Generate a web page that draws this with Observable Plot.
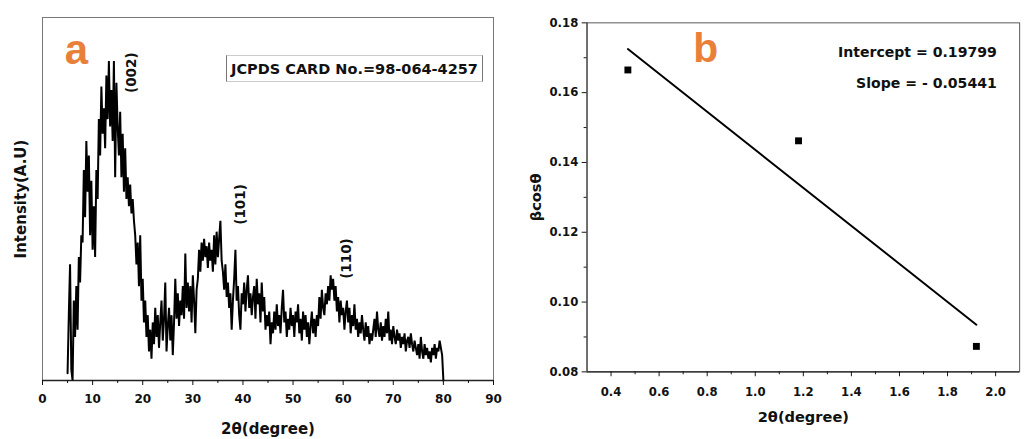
<!DOCTYPE html>
<html>
<head>
<meta charset="utf-8">
<script src="https://cdn.jsdelivr.net/npm/d3@7"></script>
<script src="https://cdn.jsdelivr.net/npm/@observablehq/plot@0.6"></script>
<style>
  html, body { margin: 0; padding: 0; background: #fff; overflow: hidden; }
  #wrap { position: relative; width: 1025px; height: 439px; overflow: hidden; background: #fff; }
  #pa { position: absolute; left: 0; top: 0; width: 512px; height: 439px; z-index: 2; }
  #pb { position: absolute; left: 500px; top: 0; width: 525px; height: 439px; overflow: hidden; z-index: 1; }
  #legend { position: absolute; left: 226px; top: 55px; width: 255px; height: 25px; z-index: 3;
    border-top: 1px solid #ccc; border-bottom: 1px solid #ccc; border-left: 1px solid #777; border-right: 1px solid #777;
    font-family: "DejaVu Sans", sans-serif; font-weight: bold; font-size: 14.5px; color: #111;
    display: flex; align-items: center; justify-content: center; white-space: nowrap; background: #fff; }
</style>
</head>
<body>
<div id="wrap">
  <div id="pa"></div>
  <div id="pb"></div>
  <div id="legend">JCPDS CARD No.=98-064-4257</div>
</div>
<script>
// ---------- Panel a: XRD pattern (2θ from 5° to 80°, step 0.25°) ----------
const xrdStart = 5;
const xrdStep = 0.25;
const xrdIntensity = [
  2, 18, 32, 3,
  0, 22, 12, 26,
  14, 34, 27, 40,
  38, 58, 45, 66,
  52, 62, 40, 55,
  36, 48, 34, 58,
  50, 72, 62, 81,
  68, 75, 64, 84,
  72, 88, 70, 80,
  66, 88, 56, 82,
  70, 62, 74, 56,
  68, 52, 64, 50,
  56, 48, 54, 46,
  50, 44, 40, 32,
  38, 26, 40, 22,
  28, 16, 22, 12,
  18, 8, 14, 6,
  16, 10, 20, 12,
  18, 9, 16, 22,
  11, 17, 27, 8,
  15, 20, 11, 18,
  7, 16, 28, 17,
  24, 15, 22, 18,
  26, 17, 35, 20,
  27, 19, 26, 16,
  29, 22, 13, 25,
  28, 36, 30, 38,
  33, 39, 34, 37,
  31, 38, 33, 36,
  30, 40, 32, 41,
  34, 39, 44, 33,
  30, 25, 32, 23,
  27, 20, 24, 14,
  22, 28, 36, 22,
  26, 18, 14, 24,
  21, 27, 19, 25,
  29, 20, 24, 18,
  23, 26, 17, 28,
  21, 24, 16, 27,
  19, 23, 14, 18,
  15, 19, 10, 16,
  13, 19, 14, 21,
  15, 18, 13, 20,
  25, 16, 19, 12,
  17, 14, 20, 15,
  18, 12, 19, 16,
  21, 13, 17, 11,
  19, 14, 18, 12,
  16, 10, 15, 19,
  13, 17, 12, 18,
  15, 23, 17, 25,
  20, 18, 24, 21,
  26, 22, 29, 25,
  28, 22, 26, 19,
  23, 16, 22, 18,
  20, 14, 19, 22,
  16, 20, 13, 18,
  15, 21, 14, 17,
  12, 16, 13, 18,
  14, 11, 16, 12,
  15, 10, 13, 11,
  14, 17, 12, 19,
  14, 12, 16, 11,
  15, 12, 17, 13,
  19, 11, 14, 10,
  15, 12, 10, 14,
  11, 13, 9, 12,
  10, 13, 8, 11,
  12, 9, 13, 10,
  8, 11, 9, 7,
  10, 6, 12, 8,
  6, 10, 7, 9,
  6, 8, 5, 9,
  7, 10, 6, 9,
  8, 11, 9, 7,
  0
];
const xrdTicks = [0, 10, 20, 30, 40, 50, 60, 70, 80, 90];
const xrdMinorTicks = [5, 15, 25, 35, 45, 55, 65, 75, 85];
const peakLabels = ["(002)", "(101)", "(110)"];
const peakAngles = [17.8, 39.6, 60.6];
const peakLabelLevels = [84.8, 48.5, 33.6];

// ---------- Panel b: βcosθ vs 2θ ----------
const whX = [0.47, 1.18, 1.92];
const whY = [0.1665, 0.1462, 0.0873];
const fitX = [0.47, 1.92];
const fitY = [0.1725, 0.0935];
const whXTicks = [0.4, 0.6, 0.8, 1.0, 1.2, 1.4, 1.6, 1.8, 2.0];
const whXMinor = [0.5, 0.7, 0.9, 1.1, 1.3, 1.5, 1.7, 1.9];
const whYTicks = [0.08, 0.10, 0.12, 0.14, 0.16, 0.18];
const whYMinor = [0.09, 0.11, 0.13, 0.15, 0.17];
const fitLabels = ["Intercept = 0.19799", "Slope = - 0.05441"];
const fitLabelLevels = [0.1716, 0.1625];

const orange = "#e9803a";
const font = "'DejaVu Sans', sans-serif";

const xrd = xrdIntensity.map((v, i) => ({angle: xrdStart + i * xrdStep, v}));

const plotA = Plot.plot({
  width: 512, height: 439,
  marginLeft: 42, marginRight: 19, marginTop: 17, marginBottom: 59,
  style: {fontFamily: font, fontWeight: "bold", fontSize: "12px", background: "transparent", color: "#111"},
  x: {domain: [0, 90]},
  y: {domain: [0, 100]},
  marks: [
    Plot.frame({stroke: "#777", strokeWidth: 1}),
    Plot.ruleY([0], {stroke: "#222", strokeWidth: 1.4}),
    Plot.line(xrd, {x: "angle", y: "v", stroke: "#000", strokeWidth: 2, strokeLinejoin: "miter"}),
    Plot.axisX(xrdTicks, {tickSize: 5, tickPadding: 9, tickFormat: d => String(d), label: null}),
    Plot.axisX(xrdMinorTicks, {tickSize: 3, tickFormat: () => "", label: null}),
    Plot.axisY([], {label: null}),
    Plot.text(peakLabels, {x: (d, i) => peakAngles[i], y: (d, i) => peakLabelLevels[i], text: d => d, rotate: -90, fontSize: 13.5, fontWeight: "bold", fill: "#111"}),
    Plot.text(["2θ(degree)"], {frameAnchor: "bottom", lineAnchor: "middle", dy: 49, fontSize: 15, fontWeight: "bold", fill: "#111"}),
    Plot.text(["Intensity(A.U)"], {frameAnchor: "left", textAnchor: "middle", lineAnchor: "middle", dx: -21, rotate: -90, fontSize: 15, fontWeight: "bold", fill: "#111"}),
    Plot.text(["a"], {frameAnchor: "top-left", textAnchor: "middle", lineAnchor: "middle", dx: 34, dy: 32.6, fontSize: 42, fontWeight: "bold", fill: orange, fontFamily: "'Liberation Sans', Arial, sans-serif"})
  ]
});
document.getElementById("pa").appendChild(plotA);

const wh = whX.map((x, i) => ({x, y: whY[i]}));
const fit = fitX.map((x, i) => ({x, y: fitY[i]}));

const plotB = Plot.plot({
  width: 540, height: 439,
  marginLeft: 89, marginRight: 6, marginTop: 23, marginBottom: 57,
  style: {fontFamily: font, fontWeight: "bold", fontSize: "12px", background: "#fff", color: "#111"},
  x: {domain: [0.3, 2.1]},
  y: {domain: [0.08, 0.18]},
  marks: [
    Plot.frame({stroke: "#555", strokeWidth: 1}),
    Plot.ruleY([0.08], {stroke: "#222", strokeWidth: 1.4}),
    Plot.ruleX([0.3], {stroke: "#444", strokeWidth: 1.2}),
    Plot.line(fit, {x: "x", y: "y", stroke: "#000", strokeWidth: 2}),
    Plot.dot(wh, {x: "x", y: "y", symbol: "square", r: 4, fill: "#000", stroke: "none"}),
    Plot.axisX(whXTicks, {tickSize: 5, tickPadding: 11, tickFormat: d => d.toFixed(1), label: null}),
    Plot.axisX(whXMinor, {tickSize: 3, tickFormat: () => "", label: null}),
    Plot.axisY(whYTicks, {tickSize: 5, tickPadding: 4, tickFormat: d => d.toFixed(2), label: null}),
    Plot.axisY(whYMinor, {tickSize: 3, tickFormat: () => "", label: null}),
    Plot.text(fitLabels, {x: 2.005, y: (d, i) => fitLabelLevels[i], text: d => d, textAnchor: "end", fontSize: 14.5, fontWeight: "bold", fill: "#111"}),
    Plot.text(["2θ(degree)"], {frameAnchor: "bottom", lineAnchor: "middle", dy: 47, fontSize: 15, fontWeight: "bold", fill: "#111"}),
    Plot.text(["βcosθ"], {frameAnchor: "left", textAnchor: "middle", lineAnchor: "middle", dx: -52, rotate: -90, fontSize: 15, fontWeight: "bold", fill: "#111"}),
    Plot.text(["b"], {frameAnchor: "top-left", textAnchor: "middle", lineAnchor: "middle", dx: 122, dy: 26.6, fontSize: 42, fontWeight: "bold", fill: orange, fontFamily: "'Liberation Sans', Arial, sans-serif"})
  ]
});
document.getElementById("pb").appendChild(plotB);
</script>
</body>
</html>
